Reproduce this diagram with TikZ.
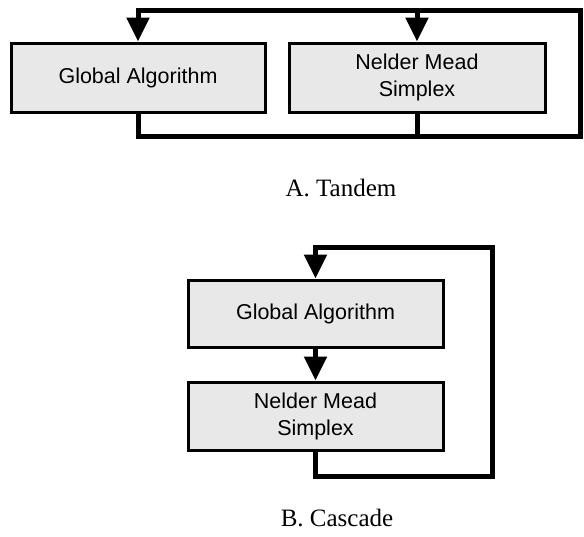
\documentclass[tikz,border=0pt]{standalone}
\usepackage{fontspec}
\setmainfont{Liberation Serif}
\newfontfamily\boxfont{Liberation Sans}
\usetikzlibrary{arrows.meta}
\begin{document}
\begin{tikzpicture}[x=1pt,y=-1pt,
  algbox/.style={draw=black, line width=3pt, fill=black!9, minimum height=69pt,
    inner sep=0pt, align=center, font=\boxfont\fontsize{21.5}{27}\selectfont},
  loopline/.style={line width=5pt, line join=miter, draw=black},
  tipline/.style={loopline, -{Triangle[length=24pt,width=22pt]}},
  caption/.style={font=\fontsize{25}{29}\selectfont, inner sep=0pt}]
\useasboundingbox (0,0) rectangle (584,536);
% A. Tandem
\node[algbox, minimum width=254pt] (ga1) at (138,77.5) {Global Algorithm};
\node[algbox, minimum width=256pt] (nm1) at (417,77.5) {Nelder Mead\\Simplex};
\coordinate (a1bl) at (138,136.5);
\coordinate (a1br) at (580,136.5);
\coordinate (a1tr) at (580,10.5);
\coordinate (a1tl) at (138,10.5);
\draw[tipline] (ga1.south) -- (a1bl) -- (a1br) -- (a1tr) -- (a1tl) -- (ga1.north);
\draw[loopline] (nm1.south) -- (nm1.south |- a1bl);
\draw[tipline] (nm1.north |- a1tl) -- (nm1.north);
\node[caption] (capA) at (341,188) {A. Tandem};
% B. Cascade
\node[algbox, minimum width=255pt, minimum height=67pt] (ga2) at (315.5,313.5) {Global Algorithm};
\node[algbox, minimum width=255pt, minimum height=68pt] (nm2) at (315.5,416) {Nelder Mead\\Simplex};
\coordinate (b1bl) at (315.5,476);
\coordinate (b1br) at (492,476);
\coordinate (b1tr) at (492,247.5);
\coordinate (b1tl) at (315.5,247.5);
\draw[tipline] (ga2.south) -- (nm2.north);
\draw[tipline] (nm2.south) -- (b1bl) -- (b1br) -- (b1tr) -- (b1tl) -- (ga2.north);
\node[caption] (capB) at (337,518) {B. Cascade};
\end{tikzpicture}
\end{document}
